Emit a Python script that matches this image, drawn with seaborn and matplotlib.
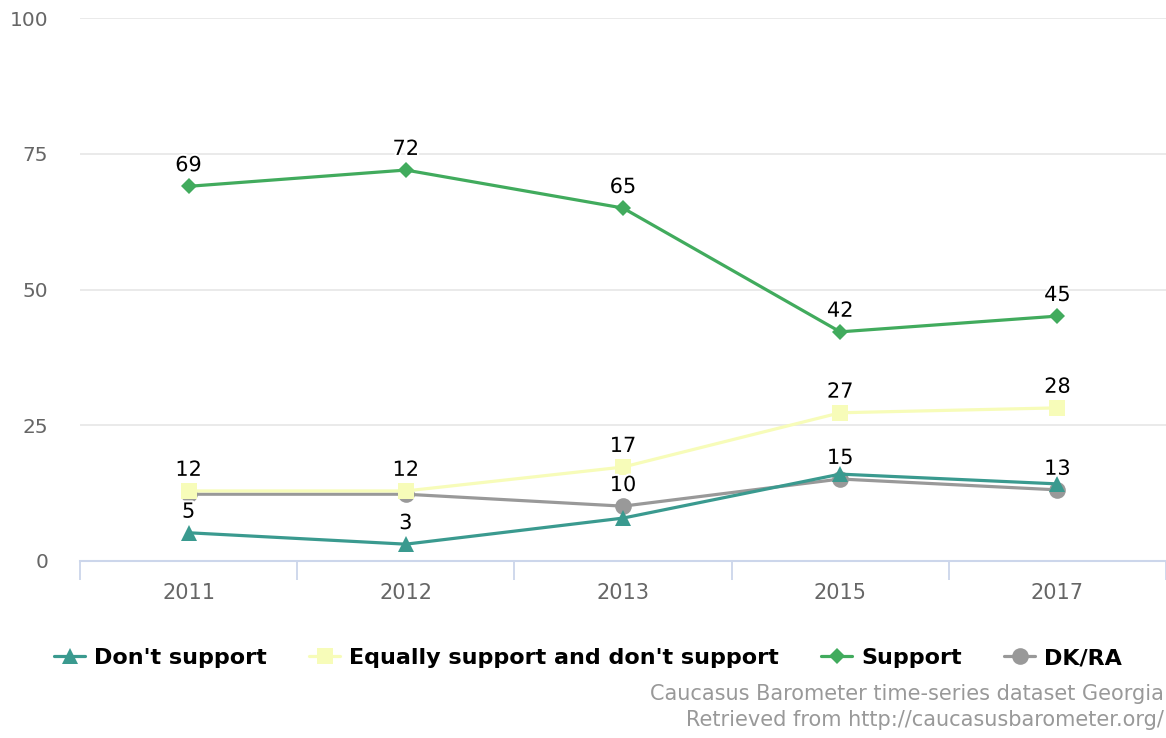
import matplotlib
matplotlib.use("Agg")
import matplotlib.pyplot as plt
import matplotlib.patheffects as pe
from matplotlib.lines import Line2D
import seaborn as sns
import pandas as pd

years = ["2011", "2012", "2013", "2015", "2017"]
series_names = ["Don't support", "Equally support and don't support", "Support", "DK/RA"]
dont_support = [5.2, 3.1, 7.9, 16.0, 14.2]
equally = [12.9, 12.9, 17.3, 27.3, 28.2]
support = [69.0, 72.0, 65.0, 42.2, 45.1]
dk_ra = [12.3, 12.3, 10.1, 15.1, 13.1]
label_dont = ["5", "3", None, None, None]
label_equally = ["12", "12", "17", "27", "28"]
label_support = ["69", "72", "65", "42", "45"]
label_dk = [None, None, "10", "15", "13"]
yticks = [0, 25, 50, 75, 100]
credits = ["Caucasus Barometer time-series dataset Georgia",
           "Retrieved from http://caucasusbarometer.org/"]

colors = ["#3a9a8f", "#f7fcb9", "#41ab5d", "#999999"]
markers = ["^", "s", "D", "o"]
msizes = [11, 12, 8, 12]
zorders = [4, 5, 6, 3]

values = [dont_support, equally, support, dk_ra]
labels = [label_dont, label_equally, label_support, label_dk]

rows = []
for name, vals in zip(series_names, values):
    for i, (yr, v) in enumerate(zip(years, vals)):
        rows.append({"series": name, "pos": i, "year": yr, "value": v})
df = pd.DataFrame(rows)

sns.set_theme(style="white")
plt.rcParams["font.family"] = ["DejaVu Sans"]

fig = plt.figure(figsize=(11.66, 7.38), dpi=100)
ax = fig.add_axes([80 / 1166, 1 - 561 / 738, 1 - 80 / 1166, (561 - 18) / 738])

for name, col, mk, ms, zo in zip(series_names, colors, markers, msizes, zorders):
    sub = df[df["series"] == name]
    sns.lineplot(data=sub, x="pos", y="value", ax=ax, color=col, marker=mk,
                 markersize=ms, markeredgewidth=0, linewidth=2.3, zorder=zo,
                 legend=False)

for name, vals, labs in zip(series_names, values, labels):
    for i, (v, lab) in enumerate(zip(vals, labs)):
        if lab is None:
            continue
        ax.annotate(lab, (i, v), xytext=(0, 8), textcoords="offset points",
                    ha="center", va="bottom", fontsize=15, color="black",
                    zorder=10,
                    path_effects=[pe.withStroke(linewidth=3, foreground="white")])

ax.set_xlim(-0.5, 4.5)
ax.set_ylim(0, 100)
ax.set_yticks(yticks)
ax.set_yticklabels([str(t) for t in yticks])
ax.set_xticks(range(len(years)))
ax.set_xticklabels(years)
ax.set_xticks([-0.5, 0.5, 1.5, 2.5, 3.5, 4.5], minor=True)
ax.tick_params(axis="x", which="major", bottom=False, length=0, pad=16, labelsize=15, labelcolor="#666666")
ax.tick_params(axis="x", which="minor", bottom=True, length=14, width=1.3, color="#ccd6eb", direction="out")
ax.tick_params(axis="y", length=0, pad=23, labelsize=14.5, labelcolor="#666666")
ax.set_xlabel("")
ax.set_ylabel("")
for s in ["top", "right", "left"]:
    ax.spines[s].set_visible(False)
ax.spines["bottom"].set_color("#ccd6eb")
ax.spines["bottom"].set_linewidth(1.5)
ax.spines["bottom"].set_zorder(1)
ax.grid(axis="y", color="#e6e6e6", linewidth=1.2)
ax.set_axisbelow(True)

handles = [Line2D([0], [0], color=c, marker=m, markersize=ms, markeredgewidth=0, linewidth=2.3)
           for c, m, ms in zip(colors, markers, msizes)]
leg = fig.legend(handles, series_names, loc="center", bbox_to_anchor=(588 / 1166, 1 - 658 / 738),
                 ncol=4, frameon=False, prop={"weight": "bold", "size": 16},
                 handlelength=1.4, handletextpad=0.4, columnspacing=1.9)
for t in leg.get_texts():
    t.set_color("black")

fig.text(1.0 - 2 / 1166, 1 - 694 / 738, credits[0], ha="right", va="center",
         fontsize=15, color="#999999")
fig.text(1.0 - 2 / 1166, 1 - 720 / 738, credits[1], ha="right", va="center",
         fontsize=15, color="#999999")

fig.savefig("out.png", dpi=100)
